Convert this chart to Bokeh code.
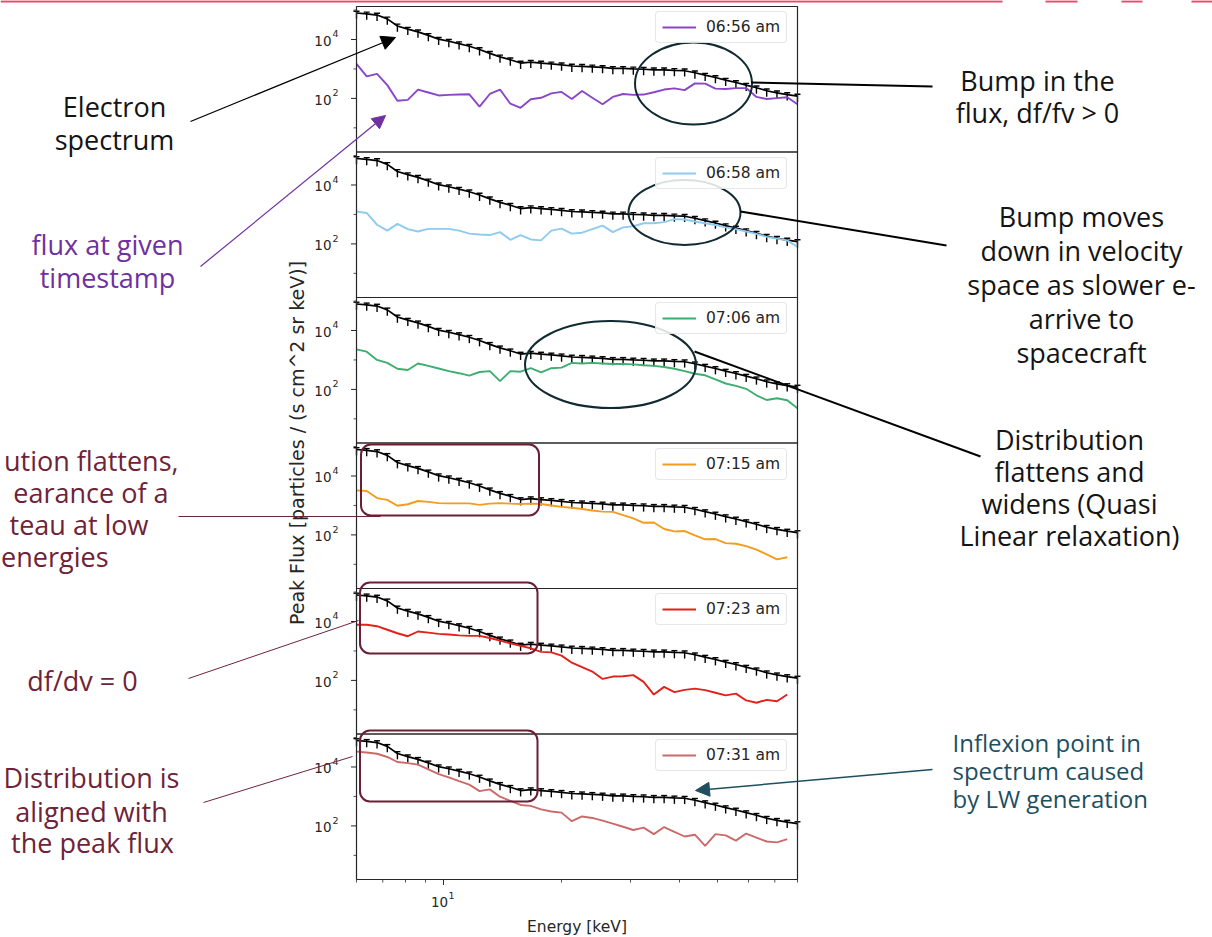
import math
from bokeh.plotting import figure
from bokeh.models import Range1d, LogScale, Legend, LegendItem, Arrow, NormalHead, Quad
from bokeh.embed import file_html
from bokeh.resources import INLINE
from bokeh.core.properties import value

# ---------------- data ----------------
energy_kev = [6.00, 6.37, 6.77, 7.19, 7.63, 8.11, 8.61, 9.15, 9.72, 10.32,
              10.96, 11.64, 12.36, 13.13, 13.94, 14.81, 15.73, 16.70, 17.74, 18.84,
              20.01, 21.25, 22.57, 23.97, 25.46, 27.04, 28.72, 30.50, 32.40, 34.41,
              36.55, 38.82, 41.23, 43.79, 46.51, 49.40, 52.46, 55.72, 59.18, 62.86,
              66.76, 70.91, 75.31, 79.99]

# log10 of flux [particles / (s cm^2 sr keV)]
peak_flux_log10 = [4.90, 4.87, 4.83, 4.70, 4.46, 4.35, 4.26, 4.14, 4.01, 3.94,
                   3.86, 3.77, 3.66, 3.53, 3.41, 3.31, 3.20, 3.23, 3.20, 3.17,
                   3.14, 3.10, 3.09, 3.07, 3.05, 3.02, 3.02, 3.00, 2.99, 2.97,
                   2.97, 2.95, 2.94, 2.87, 2.79, 2.71, 2.62, 2.54, 2.45, 2.36,
                   2.26, 2.19, 2.13, 2.08]

flux_0656_log10 = [3.17, 2.75, 2.83, 2.45, 1.92, 1.95, 2.30, 2.20, 2.10, 2.12,
                   2.13, 2.14, 1.72, 2.15, 2.30, 1.82, 1.68, 1.97, 2.02, 2.17,
                   2.22, 1.98, 2.25, 2.02, 1.80, 2.05, 2.15, 2.12, 2.13, 2.21,
                   2.30, 2.34, 2.28, 2.51, 2.50, 2.33, 2.32, 2.35, 2.35, 2.05,
                   1.98, 2.01, 2.04, 1.80]

flux_0658_log10 = [3.10, 3.05, 2.65, 2.45, 2.68, 2.50, 2.42, 2.51, 2.51, 2.51,
                   2.45, 2.35, 2.32, 2.30, 2.40, 2.14, 2.30, 2.15, 2.12, 2.45,
                   2.52, 2.35, 2.38, 2.50, 2.62, 2.40, 2.56, 2.60, 2.70, 2.70,
                   2.74, 2.84, 2.83, 2.76, 2.70, 2.64, 2.56, 2.50, 2.42, 2.34,
                   2.24, 2.18, 2.12, 1.90]

flux_0706_log10 = [3.36, 3.28, 3.00, 2.90, 2.70, 2.66, 2.88, 2.80, 2.71, 2.62,
                   2.55, 2.47, 2.59, 2.62, 2.28, 2.62, 2.60, 2.72, 2.58, 2.72,
                   2.74, 2.90, 2.88, 2.90, 2.88, 2.86, 2.86, 2.85, 2.82, 2.80,
                   2.76, 2.70, 2.62, 2.53, 2.48, 2.34, 2.20, 2.12, 2.02, 1.80,
                   1.64, 1.70, 1.63, 1.36]

flux_0715_log10 = [3.51, 3.49, 3.25, 3.19, 2.99, 3.04, 3.15, 3.12, 3.08, 3.07,
                   3.07, 3.07, 3.02, 3.06, 3.08, 3.06, 3.05, 3.06, 3.05, 3.00,
                   2.95, 2.92, 2.88, 2.83, 2.79, 2.78, 2.67, 2.56, 2.41, 2.42,
                   2.20, 2.12, 2.13, 1.98, 1.85, 1.86, 1.72, 1.70, 1.62, 1.50,
                   1.34, 1.17, 1.24, None]

flux_0723_log10 = [3.89, 3.89, 3.84, 3.72, 3.60, 3.50, 3.66, 3.62, 3.58, 3.56,
                   3.53, 3.51, 3.51, 3.44, 3.35, 3.26, 3.17, 3.09, 2.97, 2.95,
                   2.84, 2.60, 2.45, 2.30, 2.05, 2.13, 2.14, 2.18, 1.95, 1.52,
                   1.78, 1.60, 1.68, 1.72, 1.67, 1.58, 1.49, 1.55, 1.32, 1.24,
                   1.34, 1.29, 1.52, None]

flux_0731_log10 = [4.52, 4.49, 4.45, 4.34, 4.17, 4.13, 4.08, 3.92, 3.76, 3.65,
                   3.52, 3.40, 3.18, 3.24, 2.99, 2.85, 2.71, 2.68, 2.56, 2.49,
                   2.45, 2.16, 2.32, 2.27, 2.18, 2.08, 1.97, 1.86, 1.94, 1.72,
                   1.96, 1.80, 1.64, 1.70, 1.32, 1.72, 1.68, 1.50, 1.74, 1.60,
                   1.47, 1.44, 1.55, None]

timestamps = ["06:56 am", "06:58 am", "07:06 am", "07:15 am", "07:23 am", "07:31 am"]
series_log10 = [flux_0656_log10, flux_0658_log10, flux_0706_log10,
                flux_0715_log10, flux_0723_log10, flux_0731_log10]
series_colors = ["#8b45c8", "#8ecbef", "#3dae6f", "#f39c1f", "#e3211c", "#cc6a6a"]

y_major_ticks = [2, 4]          # log10 decades carrying labels
y_minor_ticks = [1, 3, 5]
y_major_exponents = ["2", "4"]
x_major_ticks = [10]
x_major_exponents = ["1"]
x_minor_ticks = [6, 7, 8, 9, 20, 30, 40, 50, 60, 70, 80]

E_MIN, E_MAX = 6.0, 80.0
LOGY_MIN, LOGY_MAX = 0.18, 5.12


def tolin(vals):
    return [float("nan") if v is None else 10 ** v for v in vals]


# ---------------- page geometry (picture pixel coordinates) ----------------
X0, X1, YT, YB = 0, 1212, 0, 937
FIG_W, FIG_H = X1 - X0, YB - YT


def Y(y):
    return (YT + YB) - y


PX0, PX1 = 356, 797
TOP0, BOT = 6, 879
PH = (BOT - TOP0) / 6.0

p = figure(width=FIG_W, height=FIG_H, x_range=Range1d(X0, X1), y_range=Range1d(YT, YB),
           output_backend="svg", toolbar_location=None, min_border=0,
           x_axis_location=None, y_axis_location=None)
p.grid.visible = False
p.outline_line_color = None
p.background_fill_color = "white"
p.border_fill_color = "white"

lx0, lx1 = math.log10(E_MIN), math.log10(E_MAX)
kx = (lx1 - lx0) / (PX1 - PX0)
xr = {"E": Range1d(10 ** (lx0 - (PX0 - X0) * kx), 10 ** (lx1 + (X1 - PX1) * kx))}
xs = {"E": LogScale()}
yr, ys = {}, {}
ky = (LOGY_MAX - LOGY_MIN) / PH
tops = []
for j in range(6):
    T = TOP0 + j * PH
    B = T + PH
    tops.append(T)
    hi = LOGY_MAX + (T - YT) * ky
    lo = LOGY_MIN - (YB - B) * ky
    yr[f"p{j}"] = Range1d(10 ** lo, 10 ** hi)
    ys[f"p{j}"] = LogScale()
p.extra_x_ranges = xr
p.extra_x_scales = xs
p.extra_y_ranges = yr
p.extra_y_scales = ys

# top decorative slide rule
p.segment(x0=[0, 1045, 1121, 1191], x1=[1002, 1077, 1142, 1212], y0=[Y(0.8)] * 4, y1=[Y(0.8)] * 4,
          line_color="#e8496e", line_width=2.2)

TICK_FONT = value("DejaVu Sans")
AX = "#262626"
peak = tolin(peak_flux_log10)
peak_hi = tolin([v + 0.06 for v in peak_flux_log10])
peak_lo = tolin([v - 0.20 for v in peak_flux_log10])

legend_kw = dict(margin=0, padding=6, spacing=0, glyph_width=34, glyph_height=16,
                 label_height=16, label_standoff=10, label_text_font="DejaVu Sans",
                 label_text_font_size="15.5px", label_text_color=AX,
                 border_line_color="#d0d0d0", border_line_width=1,
                 background_fill_color="white", background_fill_alpha=0.85)
if "border_radius" in Legend.properties():
    legend_kw["border_radius"] = 4

for j in range(6):
    rn = f"p{j}"
    T = tops[j]
    B = T + PH
    # peak flux with error bars
    p.line(energy_kev, peak, x_range_name="E", y_range_name=rn, line_color="black", line_width=1.7)
    p.segment(x0=energy_kev, y0=peak_hi, x1=energy_kev, y1=peak_lo, x_range_name="E",
              y_range_name=rn, line_color="black", line_width=1.4)
    p.scatter(energy_kev, peak_hi, marker="dash", size=6, x_range_name="E", y_range_name=rn,
              line_color="black", line_width=1.4)
    # flux at the given timestamp
    r = p.line(energy_kev, tolin(series_log10[j]), x_range_name="E", y_range_name=rn,
               line_color=series_colors[j], line_width=1.9)
    # frame
    p.quad(left=[PX0], right=[PX1], top=[Y(T)], bottom=[Y(B)], fill_color=None,
           line_color=AX, line_width=1.2)
    # y ticks
    ymaj = [10 ** d for d in y_major_ticks]
    ymin = [10 ** d for d in y_minor_ticks]
    p.segment(x0=[PX0 - 5.5] * len(ymaj), x1=[PX0] * len(ymaj), y0=ymaj, y1=ymaj,
              y_range_name=rn, line_color=AX, line_width=1)
    p.segment(x0=[PX0 - 3] * len(ymin), x1=[PX0] * len(ymin), y0=ymin, y1=ymin,
              y_range_name=rn, line_color=AX, line_width=0.8)
    p.text(x=[331] * len(ymaj), y=ymaj, text=["10"] * len(ymaj), y_range_name=rn, y_offset=1.5,
           text_font=TICK_FONT, text_font_size="13.5px", text_color=AX,
           text_align="right", text_baseline="middle")
    p.text(x=[332] * len(ymaj), y=ymaj, text=y_major_exponents, y_range_name=rn, y_offset=-5.5,
           text_font=TICK_FONT, text_font_size="9.5px", text_color=AX,
           text_align="left", text_baseline="middle")
    leg = Legend(items=[LegendItem(label=timestamps[j], renderers=[r])],
                 location=(655 - X0, YB - (T + 9 + 28)), **legend_kw)
    p.add_layout(leg)

# x axis ticks (bottom panel)
p.segment(x0=x_major_ticks, x1=x_major_ticks, y0=[Y(BOT)] * len(x_major_ticks),
          y1=[Y(BOT + 5.5)] * len(x_major_ticks), x_range_name="E", line_color=AX, line_width=1)
p.segment(x0=x_minor_ticks, x1=x_minor_ticks, y0=[Y(BOT)] * len(x_minor_ticks),
          y1=[Y(BOT + 3)] * len(x_minor_ticks), x_range_name="E", line_color=AX, line_width=0.8)
p.text(x=x_major_ticks, y=[Y(901)] * len(x_major_ticks), text=["10"] * len(x_major_ticks),
       x_range_name="E", x_offset=-4, text_font=TICK_FONT, text_font_size="13.5px", text_color=AX,
       text_align="center", text_baseline="middle")
p.text(x=x_major_ticks, y=[Y(895)] * len(x_major_ticks), text=x_major_exponents,
       x_range_name="E", x_offset=5, text_font=TICK_FONT, text_font_size="9.5px", text_color=AX,
       text_align="left", text_baseline="middle")
p.text(x=[(PX0 + PX1) / 2], y=[Y(926)], text=["Energy [keV]"], text_font=TICK_FONT,
       text_font_size="15.5px", text_color=AX, text_align="center", text_baseline="middle")
p.text(x=[296], y=[Y((TOP0 + BOT) / 2)], text=["Peak Flux [particles / (s cm^2 sr keV)]"],
       angle=math.pi / 2, text_font=TICK_FONT, text_font_size="19px", text_color=AX,
       text_align="center", text_baseline="middle")

# ---------------- slide annotations ----------------
ANN = value("Open Sans")
BLACK = "#141414"
PURPLE = "#7030a0"
MAROON = "#6e2338"
TEAL = "#1d4f5f"
DARK = "#0f2a30"


def txt(x, y, s, size, color, align="center"):
    p.text(x=[x], y=[Y(y)], text=[s], text_font=ANN, text_font_size=f"{size}px",
           text_color=color, text_align=align, text_baseline="middle")


def seg(x0, y0, x1, y1, color, w):
    p.segment(x0=[x0], y0=[Y(y0)], x1=[x1], y1=[Y(y1)], line_color=color, line_width=w)


def arrow(x0, y0, x1, y1, color, w, size):
    p.add_layout(Arrow(x_start=x0, y_start=Y(y0), x_end=x1, y_end=Y(y1), line_color=color,
                       line_width=w, end=NormalHead(size=size, fill_color=color, line_color=color)))


# left side
txt(114, 106, "Electron", 27, BLACK)
txt(114, 139, "spectrum", 27, BLACK)
arrow(190, 121, 395, 37, "black", 1.2, 14)

txt(107, 244, "flux at given", 27, PURPLE)
txt(107, 277, "timestamp", 27, PURPLE)
arrow(200, 266, 385, 115, PURPLE, 1.2, 13)

txt(178, 460, "ution flattens,", 27, MAROON, "right")
txt(168, 492, "earance of a", 27, MAROON, "right")
txt(148, 524, "teau at low", 27, MAROON, "right")
txt(108, 556, "energies", 27, MAROON, "right")
seg(178, 516, 380, 516, MAROON, 1)

txt(82, 680, "df/dv = 0", 27, MAROON)
seg(188, 678, 358, 620, MAROON, 1)

txt(91, 777, "Distribution is", 27, MAROON)
txt(91, 811, "aligned with", 27, MAROON)
txt(92, 842, "the peak flux", 27, MAROON)
seg(203, 802, 352, 756, MAROON, 1)

# ellipses
p.ellipse(x=[693, 684, 610], y=[Y(83), Y(212), Y(364)], width=[117, 112, 171],
          height=[82, 65, 87], fill_color=None, line_color=DARK, line_width=2)

# rounded boxes
box_kw = dict(fill_color=None, line_color="#6b1e35", line_width=2)
if "border_radius" in Quad.properties():
    box_kw["border_radius"] = 10
p.quad(left=[360.5, 359.5, 359.5], right=[538.5, 537, 537],
       top=[Y(444), Y(582), Y(730)], bottom=[Y(515), Y(653), Y(801)], **box_kw)

# right side
seg(751, 82, 932, 86, "black", 2)
txt(1037, 80, "Bump in the", 27, BLACK)
txt(1037, 112, "flux, df/fv > 0", 27, BLACK)

seg(740, 211, 946, 245, "black", 2)
for k, s in enumerate(["Bump moves", "down in velocity", "space as slower e-", "arrive to", "spacecraft"]):
    txt(1081, 216 + 34 * k, s, 27, BLACK)

seg(694, 351, 980, 456, "black", 2)
for k, s in enumerate(["Distribution", "flattens and", "widens (Quasi", "Linear relaxation)"]):
    txt(1069, 439 + 32 * k, s, 27, BLACK)

arrow(932, 769, 695, 790, TEAL, 1.5, 14)
for k, s in enumerate(["Inflexion point in", "spectrum caused", "by LW generation"]):
    txt(952, 741.5 + 28 * k, s, 24, TEAL, "left")

open("out.html", "w").write(file_html(p, INLINE))
